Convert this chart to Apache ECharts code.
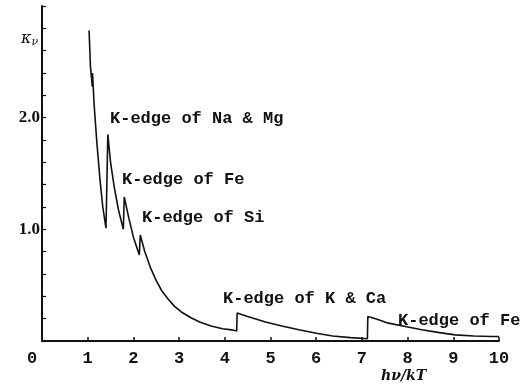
<!DOCTYPE html>
<html>
<head>
<meta charset="utf-8">
<script src="https://cdn.jsdelivr.net/npm/echarts@6/dist/echarts.min.js"></script>
<style>html,body{margin:0;padding:0;background:#fff;}#c{width:527px;height:391px;}</style>
</head>
<body>
<div id="c"></div>
<script>
// hν/kT values along the curve
var xValues = [1.03, 1.06, 1.10, 1.105, 1.14, 1.20, 1.27, 1.33, 1.40,
  1.44, 1.50, 1.58, 1.67, 1.78,
  1.80, 1.90, 2.00, 2.13,
  2.15, 2.25, 2.38, 2.50, 2.62, 2.75, 2.90, 3.05, 3.25, 3.45, 3.70, 3.95, 4.15, 4.26,
  4.27, 4.50, 4.89, 5.25, 5.62, 6.00, 6.36, 6.75, 7.12,
  7.13, 7.30, 7.58, 7.95, 8.31, 8.70, 9.04, 9.45, 9.84, 10.0];
// κν values
var yValues = [2.78, 2.46, 2.28, 2.40, 2.12, 1.78, 1.44, 1.20, 1.01,
  1.85, 1.60, 1.38, 1.18, 1.00,
  1.29, 1.10, 0.93, 0.77,
  0.95, 0.80, 0.65, 0.54, 0.45, 0.38, 0.31, 0.26, 0.21, 0.17, 0.135, 0.11, 0.10, 0.09,
  0.25, 0.22, 0.17, 0.135, 0.10, 0.07, 0.045, 0.03, 0.02,
  0.22, 0.20, 0.16, 0.13, 0.10, 0.075, 0.055, 0.045, 0.04, 0.04];
var xTicks = [0,1,2,3,4,5,6,7,8,9,10];
var yLabelValues = [1.0, 2.0];
var annotations = ['K-edge of Na & Mg', 'K-edge of Fe', 'K-edge of Si', 'K-edge of K & Ca', 'K-edge of Fe'];
var yName = 'κ', ySub = 'ν';
var xName = 'hν/kT';

var pts = xValues.map(function(x, i){ return [x, yValues[i]]; });
var annFont = {fontFamily:'Liberation Mono', fontWeight:'bold', fontSize:17, fill:'#111'};
var annPos = [[110,119],[122,180],[142,218],[223,299],[398,321]];

var chart = echarts.init(document.getElementById('c'), null, {renderer:'canvas'});
chart.setOption({
  animation:false,
  backgroundColor:'#fff',
  grid:{left:42, right:28, top:6, bottom:50, containLabel:false},
  xAxis:{
    type:'value', min:0, max:10, interval:1,
    axisLine:{show:true, onZero:false, lineStyle:{color:'#111', width:2}},
    axisTick:{show:true, inside:true, length:4, lineStyle:{color:'#111', width:1.5}},
    splitLine:{show:false},
    axisLabel:{
      margin:9, color:'#111', fontFamily:'Liberation Mono', fontWeight:'bold', fontSize:17,
      formatter:function(v){ return xTicks.indexOf(v) < 0 ? '' : (v === 0 ? '{z|0}' : String(v)); },
      rich:{z:{fontFamily:'Liberation Mono', fontWeight:'bold', fontSize:17, color:'#111', padding:[0,20,0,0]}}
    }
  },
  yAxis:{
    type:'value', min:0, max:3, interval:0.2,
    axisLine:{show:true, onZero:false, lineStyle:{color:'#111', width:2}},
    axisTick:{show:true, inside:true, length:4, lineStyle:{color:'#111', width:1.2}},
    splitLine:{show:false},
    axisLabel:{
      margin:2, color:'#111', fontFamily:'Liberation Serif', fontWeight:'bold', fontSize:17,
      formatter:function(v){
        for (var i=0;i<yLabelValues.length;i++){ if (Math.abs(v-yLabelValues[i])<1e-6) return yLabelValues[i].toFixed(1); }
        return '';
      }
    }
  },
  series:[{
    type:'line', data:pts, showSymbol:false, smooth:false,
    lineStyle:{color:'#111', width:1.6}
  }],
  graphic:annotations.map(function(t, i){
    return {type:'text', left:annPos[i][0], top:annPos[i][1]-9, style:Object.assign({text:t}, annFont)};
  }).concat([
    {type:'text', left:21, top:31, style:{
      text:'{k|' + yName + '}{s|' + ySub + '}',
      rich:{k:{fontFamily:'DejaVu Serif', fontStyle:'italic', fontSize:16, fill:'#111'},
            s:{fontFamily:'DejaVu Serif', fontStyle:'italic', fontSize:11, fill:'#111', padding:[6,0,0,0]}}
    }},
    {type:'text', left:381, top:369, style:{text:xName, fontFamily:'DejaVu Serif', fontStyle:'italic', fontWeight:'bold', fontSize:14, fill:'#111'}}
  ])
});
</script>
</body>
</html>
